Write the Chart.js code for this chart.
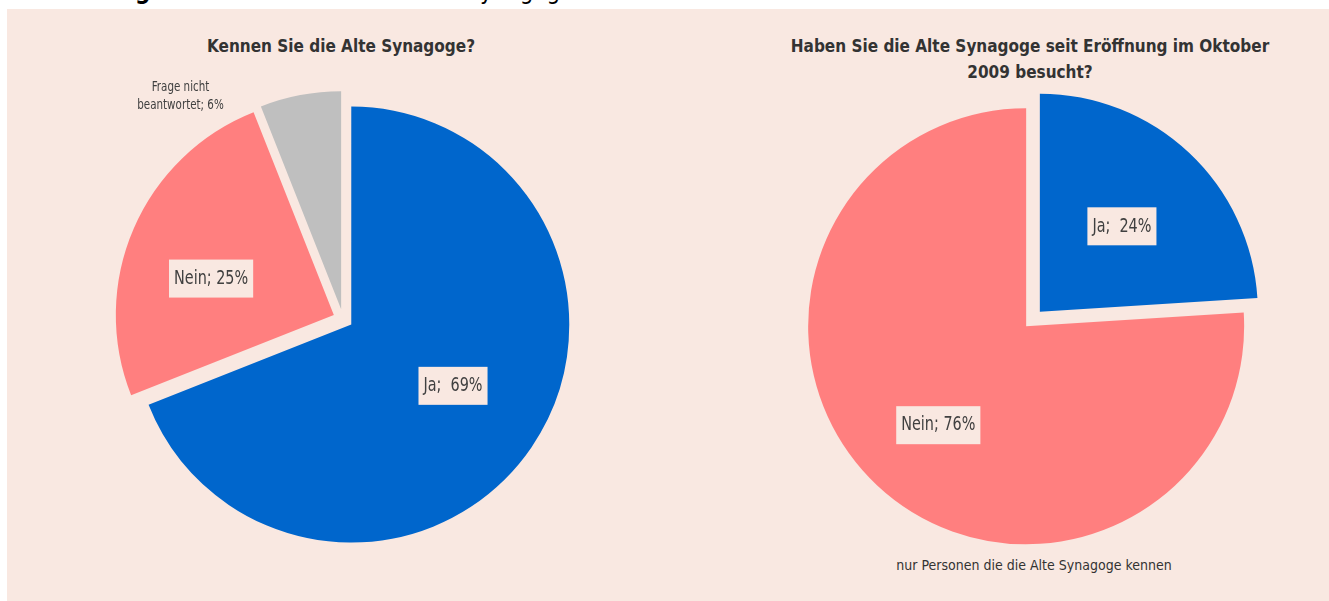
<!DOCTYPE html>
<html>
<head>
<meta charset="utf-8">
<script src="https://cdn.jsdelivr.net/npm/chart.js@4/dist/chart.umd.min.js"></script>
<style>
  html, body { margin:0; padding:0; width:1329px; height:601px; overflow:hidden; background:#ffffff; position:relative;
    font-family:'Liberation Sans Narrow','DejaVu Sans Condensed','Roboto Condensed','Liberation Sans',sans-serif; }
  #panel { position:absolute; left:7px; top:9px; right:0; bottom:0; background:#F9E8E1; }
  .head { position:absolute; top:-21px; font-size:24px; line-height:24px; color:#000; white-space:nowrap; }
  .title { position:absolute; transform:translateX(-50%); text-align:center; white-space:nowrap;
    font-weight:bold; font-size:17px; line-height:26px; color:#333333; }
  .note { position:absolute; transform:translateX(-50%); white-space:nowrap; font-size:14px; line-height:18px; color:#333333; }
  canvas { position:absolute; }
</style>
</head>
<body>
<div class="head" id="h1" style="left:20px;font-weight:bold;">Abbildung 2:</div>
<div class="head" id="h2" style="left:170px;">Bekanntheit und Besuch der Alten Synagoge</div>
<div id="panel"></div>
<div class="title" style="left:341px; top:33px;">Kennen Sie die Alte Synagoge?</div>
<div class="title" style="left:1030px; top:33px;">Haben Sie die Alte Synagoge seit Eröffnung im Oktober<br>2009 besucht?</div>
<div class="note" style="left:1034px; top:556px;">nur Personen die die Alte Synagoge kennen</div>
<canvas id="left" width="600" height="600" style="left:43px; top:19px;"></canvas>
<canvas id="right" width="600" height="600" style="left:733px; top:19px;"></canvas>
<script>
// ---- data ----
const leftCategories = ['Ja', 'Nein', ['Frage nicht', 'beantwortet']];
const leftValues = [69, 25, 6];
const rightCategories = ['Ja', 'Nein'];
const rightValues = [24, 76];

// ---- style ----
const BLUE = '#0066CC', PINK = '#FF7F7F', GREY = '#BFBFBF', PANEL = '#F9E8E1';
const FONT = "'Liberation Sans Narrow','DejaVu Sans Condensed','Roboto Condensed','Liberation Sans',sans-serif";

// place the clipped page heading so its descenders fall where the reference shows them
(function placeHeading() {
  const c = document.createElement('canvas').getContext('2d');
  c.font = 'bold 24px ' + FONT;
  document.getElementById('h1').style.left = (135 - c.measureText('Abbildun').width) + 'px';
  c.font = '24px ' + FONT;
  document.getElementById('h2').style.left = (480 - c.measureText('Bekanntheit und Besuch der Alten S').width) + 'px';
})();

const explodePlugin = {
  id: 'explode',
  afterDatasetUpdate(chart, args, opts) {
    const meta = chart.getDatasetMeta(args.index);
    meta.data.forEach(arc => {
      const mid = (arc.startAngle + arc.endAngle) / 2;
      arc.x += Math.cos(mid) * opts.distance;
      arc.y += Math.sin(mid) * opts.distance;
    });
  }
};

const labelPlugin = {
  id: 'sliceLabels',
  afterDatasetsDraw(chart, args, opts) {
    const ctx = chart.ctx;
    const meta = chart.getDatasetMeta(0);
    const values = chart.data.datasets[0].data;
    const cats = chart.data.labels;
    meta.data.forEach((arc, i) => {
      const p = opts.placement[i];
      const mid = (arc.startAngle + arc.endAngle) / 2 + p.da * Math.PI / 180;
      const x = arc.x + Math.cos(mid) * arc.outerRadius * p.f;
      const y = arc.y + Math.sin(mid) * arc.outerRadius * p.f + 2;
      const cat = cats[i];
      const lines = Array.isArray(cat) ? cat.slice() : [cat];
      lines[lines.length - 1] = lines[lines.length - 1] + (cat === 'Ja' ? ';  ' : '; ') + values[i] + '%';
      const size = p.size, sx = p.sx;
      const lh = p.lh;
      ctx.save();
      ctx.font = size + 'px ' + FONT;
      const w = Math.max(...lines.map(l => ctx.measureText(l).width)) * sx;
      const h = lh * lines.length;
      if (p.box) {
        ctx.fillStyle = PANEL;
        ctx.fillRect(x - w / 2 - 5, y - h / 2 - 7, w + 10, h + 14);
      }
      ctx.fillStyle = '#404040';
      ctx.textAlign = 'center';
      ctx.textBaseline = 'middle';
      ctx.translate(x, y);
      ctx.scale(sx, 1);
      lines.forEach((l, k) => ctx.fillText(l, 0, -h / 2 + lh * (k + 0.5)));
      ctx.restore();
    });
  }
};

function makePie(id, cats, vals, colors, placement) {
  return new Chart(document.getElementById(id), {
    type: 'pie',
    data: { labels: cats, datasets: [{ data: vals, backgroundColor: colors, borderWidth: 0 }] },
    options: {
      responsive: false,
      animation: false,
      radius: 218,
      layout: { padding: 0 },
      events: [],
      plugins: {
        legend: { display: false },
        tooltip: { enabled: false },
        title: { display: false },
        explode: { distance: 10 },
        sliceLabels: { placement }
      }
    },
    plugins: [explodePlugin, labelPlugin]
  });
}

makePie('left', leftCategories, leftValues, [BLUE, PINK, GREY], [
  { f: 0.54, da: -4, size: 20, sx: 0.8, lh: 24, box: true },
  { f: 0.59, da: -6, size: 20, sx: 0.8, lh: 24, box: true },
  { f: 1.23, da: -26, size: 14, sx: 0.82, lh: 18, box: false }
]);
makePie('right', rightCategories, rightValues, [BLUE, PINK], [
  { f: 0.55, da: 0, size: 20, sx: 0.8, lh: 24, box: true },
  { f: 0.60, da: -1, size: 20, sx: 0.8, lh: 24, box: true }
]);
</script>
</body>
</html>
